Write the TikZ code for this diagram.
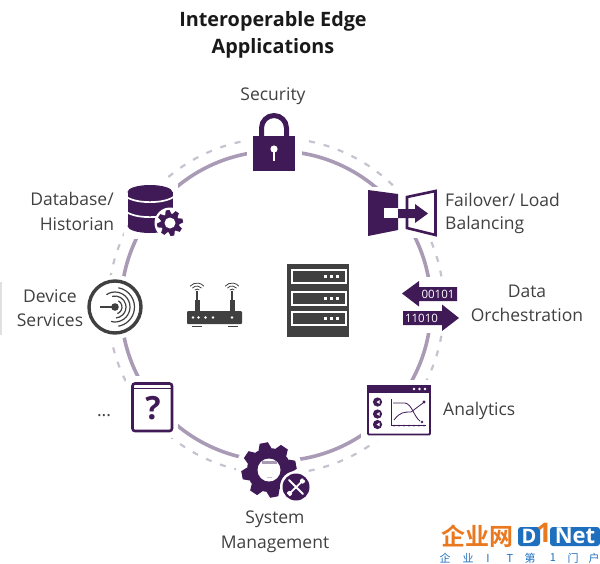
\documentclass[tikz,border=0pt]{standalone}
\usepackage{fontspec}
\setmainfont{Open Sans}
\newfontfamily\cjk{Noto Sans CJK SC}
\newfontfamily\cjkb{Noto Sans CJK SC Bold}
\definecolor{purp}{HTML}{3F1A57}
\definecolor{dgray}{HTML}{404040}
\definecolor{ringc}{HTML}{A99BB5}
\definecolor{dashc}{HTML}{C8C2CF}
\definecolor{wmblue}{HTML}{1F6FBF}
\definecolor{wmor}{HTML}{E9781F}
\newcommand{\gearicon}[6]{% cx cy rIn rOut n color
  \begin{scope}[shift={(#1,#2)}]
    \fill[#6] (0,0) circle[radius=#3];
    \pgfmathsetmacro{\stepang}{360/#5}
    \foreach \k in {1,...,#5}{
      \fill[#6,rotate=\k*\stepang+11] (#3-1,-0.24*#4) -- (#4,-0.15*#4) -- (#4,0.15*#4) -- (#3-1,0.24*#4) -- cycle;
    }
  \end{scope}}
\tikzset{
  lbl/.style={font=\fontsize{17.5}{19}\selectfont,text=dgray,inner sep=0pt},
  ttl/.style={font=\fontsize{19.8}{22}\selectfont\bfseries,text=black!90,inner sep=0pt},
  bits/.style={font=\fontsize{11.5}{12}\selectfont,text=white,inner sep=0pt},
  halo/.style={fill=white,draw=none},
  wm/.style={font=\cjk\fontsize{11}{12}\selectfont,text=wmblue,inner sep=0pt}
}
\begin{document}
\begin{tikzpicture}[x=1pt,y=-1pt]
\useasboundingbox (0,0) rectangle (600,563);
% faint edge artefact
\fill[black!12] (0,282) rectangle (1.5,335);
% rings
\draw[dashc,line width=2.2pt,dash pattern=on 6pt off 9pt] (276,306) circle[radius=168];
\draw[ringc,line width=3.6pt] (276,306) circle[radius=155];
% halos
\fill[halo] (247,128) rectangle (302,176);
\fill[halo] (364,187) rectangle (442,238);
\fill[halo] (398,277) rectangle (463,333);
\fill[halo] (361,380) rectangle (436,441);
\fill[halo] (126,376) rectangle (178,438);
\fill[halo] (269,470) circle[radius=33];
\fill[halo] (296,487) circle[radius=19];
\fill[halo] (115,307) circle[radius=32];
\fill[halo] (124,181) rectangle (178,239);
\fill[halo] (170,223) circle[radius=17];

% title
\node[ttl] (t1) at (273,21) {Interoperable Edge};
\node[ttl] (t2) at (273,48) {Applications};

% lock
\draw[purp,line width=5pt] (261.5,138) -- (261.5,128) arc[start angle=180,end angle=360,radius=12.5] -- (286.5,138);
\fill[purp] (253,136) rectangle (295,171);
\fill[white] (274,149) circle[radius=3.6];
\fill[white] (272.6,150) rectangle (275.4,161);
\node[lbl] (sec) at (273,96) {Security};

% failover
\fill[purp] (368,190) -- (398,194) -- (398,230) -- (368,236) -- cycle;
\fill[white] (384,208) rectangle (398,218);
\draw[purp,line width=2.6pt,line join=miter] (407,197) -- (435.5,191) -- (435.5,235) -- (407,228) -- cycle;
\fill[purp] (398,209) -- (415,209) -- (415,204) -- (428,213.5) -- (415,223) -- (415,218) -- (398,218) -- cycle;
\node[lbl,anchor=west] (fo1) at (445,200) {Failover/ Load};
\node[lbl,anchor=west] (fo2) at (445,225) {Balancing};

% data orchestration
\fill[purp] (402,293.5) -- (419,281) -- (419,287) -- (457,287) -- (457,301) -- (419,301) -- (419,306.5) -- cycle;
\fill[purp] (459,318) -- (442,304.5) -- (442,311) -- (403,311) -- (403,325) -- (442,325) -- (442,331) -- cycle;
\node[bits] (b1) at (438,294) {00101};
\node[bits] (b2) at (421.5,318) {11010};
\node[lbl] (dt1) at (527,291) {Data};
\node[lbl] (dt2) at (527,315) {Orchestration};

% analytics
\draw[purp,line width=1.8pt,rounded corners=1pt] (368,386) rectangle (430,434.5);
\fill[purp] (367,385) rectangle (431,392.5);
\foreach \x in {414,419.5,425} \fill[white] (\x,389) circle[radius=1.4];
\foreach \y in {402,414,424.5}{
  \fill[purp] (377.5,\y) circle[radius=4.6];
  \fill[white] (376.5,\y) -- (379.5,\y-1.8) -- (379.5,\y+1.8) -- cycle;
}
\draw[purp,line width=0.8pt] (391,399) -- (391,425.5) -- (426,425.5);
\draw[purp,line width=0.8pt] (393,403) -- (405,403) .. controls (412,404) and (414,417) .. (420,421);
\draw[purp,line width=0.8pt] (394,420) .. controls (400,412) and (404,412) .. (411,412) -- (423,403);
\fill[purp] (424,402) circle[radius=1.6];
\fill[purp] (422,422) circle[radius=1.3];
\foreach \x in {394,399,...,424} \fill[purp] (\x,425.5) circle[radius=1];
\node[lbl,anchor=west] (an) at (443,410.5) {Analytics};

% gear
\gearicon{269}{470}{22}{27.5}{8}{purp}
\fill[white] (269,470) circle[radius=11.5];
\draw[ringc,line width=2.6pt] (262,462.5) -- (277,462.5);
\draw[dashc,line width=1.6pt] (267,477.5) -- (272,477.5);
\fill[white] (296,487) circle[radius=16];
\fill[purp] (296,487) circle[radius=13.5];
\draw[white,line width=1.8pt,line cap=round] (289,480) -- (303,494);
\draw[white,line width=1.8pt] (303,480.5) -- (289,494);
\fill[white] (302.5,481) circle[radius=2.6];
\fill[white] (289.5,493.5) circle[radius=2.6];
\fill[purp] (304.5,479) circle[radius=1.3];
\fill[purp] (287.5,495.5) circle[radius=1.3];
\node[lbl] (sy1) at (275,519) {System};
\node[lbl] (sy2) at (275,544) {Management};

% question book
\draw[purp,line width=2.6pt,rounded corners=2.5pt] (132.5,383.5) rectangle (172,431);
\draw[purp,line width=1.4pt] (133,388.5) -- (172,388.5);
\node[font=\fontsize{32}{34}\selectfont\bfseries,text=purp,inner sep=0pt] (q) at (153,408) {?};
\node[lbl] (dots) at (104,416) {...};

% device services
\draw[dgray,line width=3.4pt] (115,307) circle[radius=26];
\fill[dgray] (115,307) circle[radius=3.8];
\draw[dgray,line width=1.6pt] (100,307) -- (113,307);
\begin{scope}[dgray,line width=1.2pt]
\draw (115,307) ++(-60:7) arc[start angle=-60,end angle=70,radius=7];
\draw (115,307) ++(-105:11) arc[start angle=-105,end angle=85,radius=11];
\draw (115,307) ++(-125:15) arc[start angle=-125,end angle=105,radius=15];
\draw (115,307) ++(-80:19.5) arc[start angle=-80,end angle=80,radius=19.5];
\end{scope}
\node[lbl] (dv1) at (50,296) {Device};
\node[lbl] (dv2) at (50,320) {Services};

% router
\fill[dgray] (194.5,300) rectangle (199.5,312);
\fill[dgray] (229.5,300) rectangle (234.5,312);
\draw[dgray,line width=1.4pt] (197,300) -- (197,291);
\draw[dgray,line width=1.4pt] (232,300) -- (232,291);
\foreach \x in {197,232}{
  \foreach \r in {3,6,9}{
    \draw[dgray,line width=0.8pt] (\x,292) ++(-140:\r) arc[start angle=-140,end angle=-40,radius=\r];
  }
}
\fill[dgray,rounded corners=1pt] (187,311) rectangle (242,324);
\fill[dgray] (192,325.5) rectangle (202,327);
\fill[dgray] (228,325.5) rectangle (238,327);
\foreach \x in {193,198.5,205.5,213,232} \fill[white] (\x,317.5) circle[radius=1.3];

% server
\fill[dgray] (287,264) rectangle (349,337);
\foreach \y in {269,291,311}{
  \draw[white,line width=2pt] (292,\y+1) rectangle (345.5,\y+14);
  \foreach \x in {325,331,337} \fill[white] (\x-1.5,\y+5.5) rectangle (\x+1.5,\y+8.5);
}

% database
\fill[purp] (150,192) ellipse[x radius=22.5,y radius=7];
\fill[purp] (127.5,192) rectangle (172.5,226);
\fill[purp] (150,226) ellipse[x radius=22.5,y radius=7];
\draw[white,line width=1.7pt] (126,196.5) .. controls (135,204) and (165,204) .. (174,196.5);
\draw[white,line width=1.7pt] (126,211.5) .. controls (135,219) and (165,219) .. (174,211.5);
\fill[white] (170,223) circle[radius=15.5];
\gearicon{170}{223}{9.5}{13}{8}{purp}
\fill[white] (170,223) circle[radius=5.5];
\node[lbl] (db1) at (72,199) {Database/};
\node[lbl] (db2) at (77,224) {Historian};

% watermark
\node[font=\cjkb\fontsize{24}{24}\selectfont,text=wmor,inner sep=0pt] (wm1) at (477,536) {企业网};
\fill[wmblue,rounded corners=3pt] (518,527) rectangle (540,546);
\fill[wmblue,rounded corners=3pt] (550,527) rectangle (600,546);
\node[font=\fontsize{20}{20}\selectfont\bfseries,text=white,inner sep=0pt] (wmd) at (529,536.5) {D};
\node[font=\fontsize{27}{27}\selectfont\bfseries,text=wmor,inner sep=0pt] (wmo) at (544,533) {1};
\node[font=\fontsize{22}{22}\selectfont\bfseries,text=white,inner sep=0pt] (wmn) at (575,536) {Net};
\node[wm] (c1) at (445,558) {企};
\node[wm] (c2) at (468,558) {业};
\node[wm] (c3) at (488,558) {I};
\node[wm] (c4) at (510,558) {T};
\node[wm] (c5) at (530,558) {第};
\node[wm] (c6) at (553,558) {1};
\node[wm] (c7) at (573,558) {门};
\node[wm] (c8) at (594,558) {户};
\end{tikzpicture}
\end{document}
